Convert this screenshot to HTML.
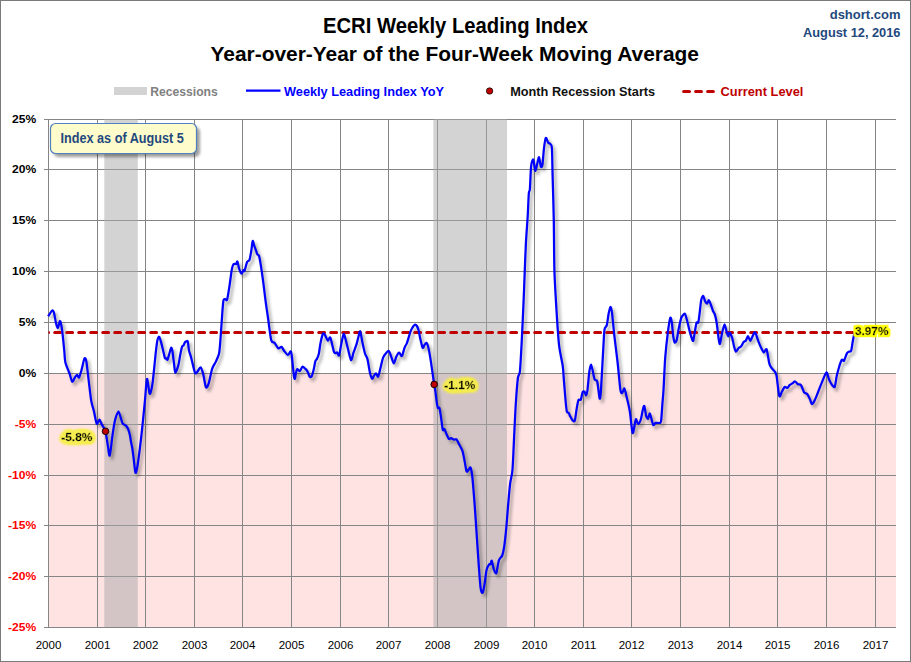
<!DOCTYPE html>
<html><head><meta charset="utf-8"><title>ECRI Weekly Leading Index</title>
<style>
html,body{margin:0;padding:0;background:#fff;}
body{width:911px;height:662px;overflow:hidden;}
svg{display:block;font-family:"Liberation Sans", sans-serif;}
</style></head><body>
<svg width="911" height="662" viewBox="0 0 911 662">
<defs>
<clipPath id="plotclip"><rect x="48.5" y="119.5" width="847.0" height="508.0"/></clipPath>
<filter id="blur" x="-5%" y="-5%" width="110%" height="110%"><feGaussianBlur stdDeviation="1.6"/></filter>
<filter id="blur1" x="-30%" y="-50%" width="160%" height="200%"><feGaussianBlur stdDeviation="1"/></filter>
<filter id="glowA" x="-30%" y="-80%" width="160%" height="260%"><feGaussianBlur in="SourceAlpha" stdDeviation="3.2" result="b0"/><feComponentTransfer in="b0" result="b"><feFuncA type="linear" slope="12" intercept="-0.2"/></feComponentTransfer><feGaussianBlur in="b" stdDeviation="0.5" result="b2"/><feFlood flood-color="#f6ee46" flood-opacity="0.92" result="f"/><feComposite in="f" in2="b2" operator="in" result="g"/><feMerge><feMergeNode in="g"/><feMergeNode in="SourceGraphic"/></feMerge></filter>
<filter id="glowB" x="-30%" y="-80%" width="160%" height="260%"><feMorphology in="SourceAlpha" operator="dilate" radius="1.6" result="d"/><feGaussianBlur in="d" stdDeviation="0.5" result="b"/><feFlood flood-color="#ffff00" flood-opacity="1" result="f"/><feComposite in="f" in2="b" operator="in" result="g"/><feMerge><feMergeNode in="g"/><feMergeNode in="SourceGraphic"/></feMerge></filter>
<filter id="blur2" x="-30%" y="-50%" width="160%" height="200%"><feGaussianBlur stdDeviation="1.5"/></filter>
</defs>
<rect x="0.5" y="0.5" width="910" height="661" fill="#fff" stroke="#7a7a7a" stroke-width="1"/>
<rect x="49" y="374" width="847" height="253" fill="#ffe3e3"/>
<path d="M48.5 119V628 M97.5 119V628 M145.5 119V628 M194.5 119V628 M242.5 119V628 M291.5 119V628 M340.5 119V628 M388.5 119V628 M437.5 119V628 M486.5 119V628 M534.5 119V628 M583.5 119V628 M631.5 119V628 M680.5 119V628 M729.5 119V628 M777.5 119V628 M826.5 119V628 M875.5 119V628 M44 119.5H896 M44 169.5H896 M44 220.5H896 M44 271.5H896 M44 322.5H896 M44 373.5H896 M44 424.5H896 M44 475.5H896 M44 525.5H896 M44 576.5H896 M44 627.5H896" stroke="#858585" stroke-width="1" fill="none"/>
<rect x="104.3" y="119" width="33.5" height="508" fill="rgb(169,169,169)" fill-opacity="0.513"/>
<rect x="433.4" y="119" width="73.6" height="508" fill="rgb(169,169,169)" fill-opacity="0.513"/>
<path d="M48.20 316.30C48.72 315.54 51.33 311.07 52.10 310.60C52.87 310.13 53.49 311.19 54.00 312.80C54.51 314.41 55.39 320.67 55.90 322.70C56.41 324.73 57.29 328.16 57.80 328.00C58.31 327.84 59.30 322.21 59.70 321.50C60.10 320.79 60.45 321.34 60.80 322.70C61.15 324.06 61.85 328.06 62.30 331.70C62.75 335.34 63.79 345.89 64.20 350.00C64.61 354.11 64.69 359.38 65.40 362.50C66.11 365.62 68.59 370.85 69.50 373.40C70.41 375.95 71.48 381.05 72.20 381.60C72.92 382.15 74.25 378.41 74.90 377.50C75.55 376.59 76.55 374.80 77.10 374.80C77.65 374.80 78.39 378.22 79.00 377.50C79.61 376.78 80.98 371.93 81.70 369.40C82.42 366.87 83.79 359.59 84.40 358.50C85.01 357.41 85.75 358.48 86.30 361.20C86.85 363.92 87.85 373.65 88.50 378.90C89.15 384.15 90.47 396.25 91.20 400.60C91.93 404.95 93.27 408.42 94.00 411.50C94.73 414.58 95.98 422.61 96.70 423.70C97.42 424.79 98.68 419.51 99.40 419.70C100.12 419.89 101.30 423.58 102.10 425.10C102.90 426.62 104.67 428.57 105.40 431.10C106.13 433.63 107.03 440.83 107.60 444.10C108.17 447.37 109.06 456.65 109.70 455.60C110.34 454.55 111.80 440.39 112.40 436.20C113.00 432.01 113.72 426.77 114.20 424.20C114.68 421.63 115.43 418.59 116.00 416.90C116.57 415.21 117.85 411.34 118.50 411.50C119.15 411.66 120.34 416.49 120.90 418.10C121.46 419.71 122.06 422.63 122.70 423.60C123.34 424.57 124.98 424.68 125.70 425.40C126.42 426.12 127.54 427.72 128.10 429.00C128.66 430.28 129.50 433.23 129.90 435.00C130.30 436.77 130.78 440.53 131.10 442.30C131.42 444.07 131.97 446.21 132.30 448.30C132.63 450.39 133.19 454.77 133.60 458.00C134.01 461.23 134.92 471.22 135.40 472.50C135.88 473.78 136.64 470.51 137.20 467.60C137.76 464.69 138.96 455.69 139.60 450.70C140.24 445.71 141.28 436.96 142.00 430.20C142.72 423.44 144.33 406.84 145.00 400.00C145.67 393.16 146.37 379.73 147.00 378.90C147.63 378.07 148.98 393.08 149.70 393.80C150.42 394.52 151.68 388.94 152.40 384.30C153.12 379.66 154.62 363.52 155.10 359.00C155.58 354.48 155.71 352.84 156.00 350.40C156.29 347.96 156.93 342.51 157.30 340.70C157.67 338.89 158.44 337.08 158.80 336.80C159.16 336.52 159.60 337.52 160.00 338.60C160.40 339.68 161.16 342.37 161.80 344.90C162.44 347.43 164.20 355.79 164.80 357.60C165.40 359.41 165.94 358.22 166.30 358.50C166.66 358.78 167.06 360.46 167.50 359.70C167.94 358.94 169.12 354.40 169.60 352.80C170.08 351.20 170.73 347.94 171.10 347.70C171.47 347.46 171.99 348.69 172.40 351.00C172.81 353.31 173.80 362.09 174.20 365.00C174.60 367.91 174.84 372.80 175.40 372.80C175.96 372.80 177.76 367.37 178.40 365.00C179.04 362.63 179.72 357.43 180.20 355.00C180.68 352.57 181.56 348.07 182.00 346.80C182.44 345.53 183.10 346.11 183.50 345.50C183.90 344.89 184.63 342.76 185.00 342.20C185.37 341.64 185.93 341.38 186.30 341.30C186.67 341.22 187.44 340.39 187.80 341.60C188.16 342.81 188.55 348.24 189.00 350.40C189.45 352.56 190.40 354.81 191.20 357.80C192.00 360.79 194.13 370.99 195.00 372.80C195.87 374.61 196.97 372.13 197.70 371.40C198.43 370.67 199.77 366.94 200.50 367.30C201.23 367.66 202.48 371.45 203.20 374.10C203.92 376.75 205.18 385.92 205.90 387.20C206.62 388.48 207.76 386.17 208.60 383.70C209.44 381.23 211.25 371.61 212.20 368.70C213.15 365.79 214.79 363.90 215.70 361.90C216.61 359.90 218.39 356.42 219.00 353.70C219.61 350.98 219.86 346.93 220.30 341.50C220.74 336.07 221.87 318.49 222.30 313.00C222.73 307.51 223.10 302.15 223.50 300.30C223.90 298.45 224.82 299.18 225.30 299.10C225.78 299.02 226.54 301.47 227.10 299.70C227.66 297.93 228.86 289.91 229.50 285.80C230.14 281.69 231.34 271.81 231.90 268.90C232.46 265.99 233.13 264.65 233.70 264.00C234.27 263.35 235.71 264.32 236.20 264.00C236.69 263.68 237.00 260.95 237.40 261.60C237.80 262.25 238.64 267.29 239.20 268.90C239.76 270.51 241.04 273.54 241.60 273.70C242.16 273.86 243.00 270.50 243.40 270.10C243.80 269.70 244.12 271.75 244.60 270.70C245.08 269.65 246.35 263.65 247.00 262.20C247.65 260.75 248.93 261.33 249.50 259.80C250.07 258.27 250.87 253.21 251.30 250.70C251.73 248.19 252.30 241.64 252.70 241.00C253.10 240.36 253.85 244.61 254.30 245.90C254.75 247.19 255.70 249.58 256.10 250.70C256.50 251.82 256.90 253.57 257.30 254.30C257.70 255.03 258.61 254.59 259.10 256.20C259.59 257.81 260.43 262.77 261.00 266.40C261.57 270.03 262.76 278.56 263.40 283.40C264.04 288.24 265.20 298.22 265.80 302.70C266.40 307.18 267.18 312.01 267.90 317.00C268.62 321.99 270.29 336.65 271.20 340.10C272.11 343.55 273.77 341.81 274.70 342.90C275.63 343.99 277.29 347.77 278.20 348.30C279.11 348.83 280.70 346.54 281.50 346.90C282.30 347.26 283.33 349.93 284.20 351.00C285.07 352.07 287.11 354.85 288.00 354.90C288.89 354.95 290.31 350.55 290.90 351.40C291.49 352.25 292.00 358.02 292.40 361.30C292.80 364.58 293.57 373.65 293.90 376.00C294.23 378.35 294.63 379.30 294.90 378.90C295.17 378.50 295.58 374.31 295.90 373.00C296.22 371.69 296.78 369.35 297.30 369.10C297.82 368.85 299.11 371.42 299.80 371.10C300.49 370.78 301.78 367.03 302.50 366.70C303.22 366.37 304.52 367.95 305.20 368.60C305.88 369.25 307.01 370.55 307.60 371.60C308.19 372.65 309.07 375.85 309.60 376.50C310.13 377.15 311.05 377.42 311.60 376.50C312.15 375.58 313.21 371.63 313.70 369.60C314.19 367.57 314.86 362.74 315.30 361.30C315.74 359.86 316.52 359.85 317.00 358.80C317.48 357.75 318.45 355.43 318.90 353.40C319.35 351.37 319.87 346.21 320.40 343.60C320.93 340.99 322.31 334.99 322.90 333.80C323.49 332.61 324.15 333.79 324.80 334.70C325.45 335.61 327.05 340.20 327.80 340.60C328.55 341.00 329.55 336.13 330.40 337.70C331.25 339.27 333.31 350.44 334.20 352.40C335.09 354.36 336.45 352.00 337.10 352.40C337.75 352.80 338.58 356.32 339.10 355.40C339.62 354.48 340.41 348.33 341.00 345.50C341.59 342.67 342.94 335.21 343.50 334.20C344.06 333.19 344.64 336.09 345.20 337.90C345.76 339.71 346.93 344.84 347.70 347.80C348.47 350.76 350.23 359.45 351.00 360.10C351.77 360.75 352.74 354.90 353.50 352.70C354.26 350.50 356.05 345.69 356.70 343.60C357.35 341.51 357.93 338.64 358.40 337.00C358.87 335.36 359.65 330.53 360.20 331.30C360.75 332.07 361.86 339.84 362.50 342.80C363.14 345.76 364.33 351.30 365.00 353.50C365.67 355.70 366.85 356.77 367.50 359.30C368.15 361.83 369.29 369.91 369.90 372.50C370.51 375.09 371.55 378.27 372.10 378.70C372.65 379.13 373.48 376.42 374.00 375.70C374.52 374.98 375.44 373.18 376.00 373.30C376.56 373.42 377.59 377.37 378.20 376.60C378.81 375.83 379.95 370.03 380.60 367.50C381.25 364.97 382.33 359.57 383.10 357.60C383.87 355.63 385.63 353.58 386.40 352.70C387.17 351.82 388.25 350.45 388.90 351.00C389.55 351.55 390.65 355.15 391.30 356.80C391.95 358.45 393.13 363.40 393.80 363.40C394.47 363.40 395.59 358.23 396.30 356.80C397.01 355.37 398.34 352.81 399.10 352.70C399.86 352.59 401.28 356.65 402.00 356.00C402.72 355.35 403.83 349.56 404.50 347.80C405.17 346.04 406.23 344.89 407.00 342.80C407.77 340.71 409.61 334.07 410.30 332.10C410.99 330.13 411.55 328.99 412.20 328.00C412.85 327.01 414.40 324.59 415.20 324.70C416.00 324.81 417.55 327.04 418.20 328.80C418.85 330.56 419.51 335.37 420.10 337.90C420.69 340.43 422.04 346.81 422.60 347.80C423.16 348.79 423.79 345.97 424.30 345.30C424.81 344.63 425.85 342.47 426.40 342.80C426.95 343.13 427.81 345.39 428.40 347.80C428.99 350.21 430.04 356.07 430.80 360.90C431.56 365.73 433.50 380.04 434.10 384.00C434.70 387.96 434.94 388.11 435.30 390.60C435.66 393.09 436.45 400.39 436.80 402.70C437.15 405.01 437.55 407.21 437.90 407.90C438.25 408.59 439.00 406.78 439.40 407.90C439.80 409.02 440.45 413.38 440.90 416.30C441.35 419.22 442.33 428.09 442.80 429.80C443.27 431.51 443.93 428.59 444.40 429.10C444.87 429.61 445.70 432.29 446.30 433.60C446.90 434.91 448.26 438.29 448.90 438.90C449.54 439.51 450.39 438.09 451.10 438.20C451.81 438.31 453.49 439.57 454.20 439.70C454.91 439.83 455.69 438.49 456.40 439.20C457.11 439.91 458.69 443.43 459.50 445.00C460.31 446.57 461.81 448.79 462.50 451.00C463.19 453.21 464.15 458.88 464.70 461.60C465.25 464.32 466.09 470.29 466.60 471.40C467.11 472.51 467.98 470.41 468.50 469.90C469.02 469.39 469.99 466.69 470.50 467.60C471.01 468.51 471.74 471.66 472.30 476.70C472.86 481.74 474.11 497.65 474.70 505.40C475.29 513.15 476.17 526.95 476.70 534.80C477.23 542.65 478.18 557.22 478.70 564.30C479.22 571.38 480.08 584.10 480.60 587.90C481.12 591.70 482.07 593.32 482.60 592.80C483.13 592.28 484.08 587.01 484.60 584.00C485.12 580.99 485.90 572.83 486.50 570.20C487.10 567.57 488.57 565.09 489.10 564.30C489.63 563.51 490.14 564.77 490.50 564.30C490.86 563.83 491.36 560.15 491.80 560.80C492.24 561.45 493.20 567.56 493.80 569.20C494.40 570.84 495.62 574.27 496.30 573.10C496.98 571.93 498.11 562.75 498.90 560.40C499.69 558.05 501.49 557.34 502.20 555.50C502.91 553.66 503.67 550.15 504.20 546.60C504.73 543.05 505.68 534.39 506.20 528.90C506.72 523.41 507.58 511.41 508.10 505.40C508.62 499.39 509.51 488.59 510.10 483.80C510.69 479.01 511.94 476.27 512.50 469.50C513.06 462.73 513.86 441.77 514.30 433.00C514.74 424.23 515.32 411.03 515.80 403.70C516.28 396.37 517.35 382.29 517.90 378.00C518.45 373.71 519.39 376.30 519.90 371.50C520.41 366.70 521.22 351.08 521.70 342.00C522.18 332.92 523.11 312.33 523.50 303.40C523.89 294.47 524.28 283.00 524.60 275.00C524.92 267.00 525.49 251.24 525.90 243.40C526.31 235.56 527.31 222.85 527.70 216.20C528.09 209.55 528.51 197.13 528.80 193.50C529.09 189.87 529.59 192.63 529.90 189.00C530.21 185.37 530.65 170.23 531.10 166.30C531.55 162.37 532.75 158.90 533.30 159.50C533.85 160.10 534.68 170.20 535.20 170.80C535.72 171.40 536.69 165.81 537.20 164.00C537.71 162.19 538.52 156.89 539.00 157.20C539.48 157.51 540.35 165.25 540.80 166.30C541.25 167.35 541.97 167.53 542.40 165.10C542.83 162.67 543.55 151.73 544.00 148.10C544.45 144.47 545.25 138.65 545.80 137.90C546.35 137.15 547.49 141.67 548.10 142.50C548.71 143.33 549.89 143.35 550.40 144.10C550.91 144.85 551.61 143.93 551.90 148.10C552.19 152.27 552.35 165.72 552.60 175.40C552.85 185.08 553.56 208.09 553.80 220.70C554.04 233.31 554.05 258.28 554.40 270.00C554.75 281.72 555.79 298.65 556.40 308.60C557.01 318.55 558.16 336.99 559.00 344.60C559.84 352.21 562.05 360.95 562.70 365.70C563.35 370.45 563.50 375.36 563.90 380.20C564.30 385.04 565.30 397.80 565.70 402.00C566.10 406.20 566.50 410.25 566.90 411.70C567.30 413.15 568.29 412.34 568.70 412.90C569.11 413.46 569.51 414.94 570.00 415.90C570.49 416.86 571.76 419.46 572.40 420.10C573.04 420.74 574.24 422.15 574.80 420.70C575.36 419.25 576.12 411.93 576.60 409.20C577.08 406.47 577.84 401.48 578.40 400.20C578.96 398.92 580.24 400.65 580.80 399.60C581.36 398.55 582.11 393.35 582.60 392.30C583.09 391.25 584.05 391.30 584.50 391.70C584.95 392.10 585.60 395.54 586.00 395.30C586.40 395.06 587.06 393.03 587.50 389.90C587.94 386.77 588.82 375.19 589.30 371.80C589.78 368.41 590.62 364.50 591.10 364.50C591.58 364.50 592.42 369.79 592.90 371.80C593.38 373.81 594.13 378.32 594.70 379.60C595.27 380.88 596.55 378.89 597.20 381.40C597.85 383.91 599.12 396.95 599.60 398.40C600.08 399.85 600.45 396.34 600.80 392.30C601.15 388.26 601.88 373.74 602.20 368.10C602.52 362.46 602.89 355.13 603.20 350.00C603.51 344.87 604.02 332.92 604.50 329.60C604.98 326.28 606.25 327.21 606.80 325.10C607.35 322.99 608.12 316.21 608.60 313.80C609.08 311.39 609.95 307.16 610.40 307.00C610.85 306.84 611.48 308.83 612.00 312.60C612.52 316.37 613.55 328.65 614.30 335.30C615.05 341.95 616.79 355.25 617.60 362.50C618.41 369.75 619.79 385.62 620.40 389.70C621.01 393.78 621.67 393.26 622.20 393.10C622.73 392.94 623.79 387.90 624.40 388.50C625.01 389.10 626.08 394.57 626.80 397.60C627.52 400.63 629.04 406.52 629.80 411.20C630.56 415.88 631.89 430.69 632.50 432.70C633.11 434.71 633.95 428.11 634.40 426.30C634.85 424.49 635.41 419.41 635.90 419.10C636.39 418.79 637.45 423.95 638.10 424.00C638.75 424.05 640.19 421.31 640.80 419.50C641.41 417.69 642.23 412.21 642.70 410.40C643.17 408.59 643.85 405.19 644.30 405.90C644.75 406.61 645.61 413.99 646.10 415.70C646.59 417.41 647.53 419.01 648.00 418.70C648.47 418.39 649.20 413.60 649.60 413.40C650.00 413.20 650.51 415.64 651.00 417.20C651.49 418.76 652.70 424.34 653.30 425.10C653.90 425.86 654.59 423.19 655.50 422.90C656.41 422.61 659.34 423.26 660.10 422.90C660.86 422.54 660.91 422.57 661.20 420.20C661.49 417.83 661.99 409.13 662.30 405.10C662.61 401.07 663.11 396.29 663.50 390.00C663.89 383.71 664.61 365.62 665.20 357.90C665.79 350.18 667.22 337.43 667.90 332.10C668.58 326.77 669.78 319.21 670.30 317.90C670.82 316.59 671.41 319.89 671.80 322.30C672.19 324.71 672.81 333.32 673.20 336.00C673.59 338.68 674.23 341.87 674.70 342.40C675.17 342.93 676.18 341.76 676.70 340.00C677.22 338.24 678.01 332.08 678.60 329.20C679.19 326.32 680.50 320.31 681.10 318.40C681.70 316.49 682.58 315.50 683.10 314.90C683.62 314.30 684.48 313.18 685.00 313.90C685.52 314.62 686.41 318.14 687.00 320.30C687.59 322.46 688.81 327.87 689.40 330.10C689.99 332.33 690.89 335.56 691.40 337.00C691.91 338.44 692.75 341.55 693.20 340.90C693.65 340.25 694.36 334.51 694.80 332.10C695.24 329.69 696.03 324.11 696.50 322.80C696.97 321.49 697.87 323.67 698.30 322.30C698.73 320.93 699.31 315.45 699.70 312.50C700.09 309.55 700.73 302.43 701.20 300.20C701.67 297.97 702.68 295.67 703.20 295.80C703.72 295.93 704.58 300.16 705.10 301.20C705.62 302.24 706.59 303.73 707.10 303.60C707.61 303.47 708.38 300.00 708.90 300.20C709.42 300.40 710.45 303.66 711.00 305.10C711.55 306.54 712.47 309.69 713.00 311.00C713.53 312.31 714.48 313.13 715.00 314.90C715.52 316.67 716.45 321.35 716.90 324.30C717.35 327.25 718.00 334.39 718.40 337.00C718.80 339.61 719.38 344.55 719.90 343.90C720.42 343.25 721.67 334.71 722.30 332.10C722.93 329.49 724.01 324.30 724.60 324.30C725.19 324.30 726.22 330.47 726.70 332.10C727.18 333.73 727.83 336.43 728.20 336.50C728.57 336.57 728.97 332.40 729.50 332.60C730.03 332.80 731.60 336.19 732.20 338.00C732.80 339.81 733.52 344.39 734.00 346.20C734.48 348.01 735.19 351.36 735.80 351.60C736.41 351.84 737.87 348.72 738.60 348.00C739.33 347.28 740.63 347.00 741.30 346.20C741.97 345.40 743.00 342.72 743.60 342.00C744.20 341.28 745.21 341.57 745.80 340.80C746.39 340.03 747.40 336.20 748.00 336.20C748.60 336.20 749.63 340.92 750.30 340.80C750.97 340.68 752.35 336.39 753.00 335.30C753.65 334.21 754.47 331.75 755.20 332.60C755.93 333.45 757.70 339.65 758.50 341.70C759.30 343.75 760.48 346.56 761.20 348.00C761.92 349.44 763.18 352.33 763.90 352.50C764.62 352.67 765.88 347.85 766.60 349.30C767.32 350.75 768.65 360.92 769.30 363.40C769.95 365.88 770.77 366.81 771.50 367.90C772.23 368.99 774.12 370.51 774.80 371.60C775.48 372.69 776.00 372.85 776.60 376.10C777.20 379.35 778.58 393.95 779.30 396.00C780.02 398.05 781.28 392.70 782.00 391.50C782.72 390.30 783.97 387.48 784.70 387.00C785.43 386.52 786.85 388.15 787.50 387.90C788.15 387.65 788.93 385.71 789.60 385.10C790.27 384.49 791.77 383.78 792.50 383.30C793.23 382.82 794.37 381.38 795.10 381.50C795.83 381.62 797.21 383.72 798.00 384.20C798.79 384.68 800.19 384.01 801.00 385.10C801.81 386.19 803.25 391.19 804.10 392.40C804.95 393.61 806.60 393.24 807.40 394.20C808.20 395.16 809.50 398.27 810.10 399.60C810.70 400.93 811.30 404.08 811.90 404.20C812.50 404.32 813.75 402.19 814.60 400.50C815.45 398.81 817.33 393.91 818.30 391.50C819.27 389.09 820.82 384.93 821.90 382.40C822.98 379.87 825.48 372.98 826.40 372.50C827.32 372.02 828.19 377.36 828.80 378.80C829.41 380.24 830.23 382.21 831.00 383.30C831.77 384.39 833.84 387.96 834.60 387.00C835.36 386.04 836.10 378.77 836.70 376.10C837.30 373.43 838.42 369.17 839.10 367.00C839.78 364.83 841.15 360.64 841.80 359.80C842.45 358.96 843.32 361.55 844.00 360.70C844.68 359.85 846.22 354.61 846.90 353.40C847.58 352.19 848.53 351.96 849.10 351.60C849.67 351.24 850.72 352.02 851.20 350.70C851.68 349.38 852.26 344.11 852.70 341.70C853.14 339.29 854.26 333.81 854.50 332.60" stroke="#000" stroke-opacity="0.28" stroke-width="3" fill="none" stroke-linejoin="round" filter="url(#blur)" transform="translate(2.5 3)"/>
<path d="M42.7 332.6H854" stroke="#c00000" stroke-width="3" stroke-dasharray="5.9 6.1" stroke-linecap="round" fill="none" clip-path="url(#plotclip)"/>
<path d="M48.20 316.30C48.72 315.54 51.33 311.07 52.10 310.60C52.87 310.13 53.49 311.19 54.00 312.80C54.51 314.41 55.39 320.67 55.90 322.70C56.41 324.73 57.29 328.16 57.80 328.00C58.31 327.84 59.30 322.21 59.70 321.50C60.10 320.79 60.45 321.34 60.80 322.70C61.15 324.06 61.85 328.06 62.30 331.70C62.75 335.34 63.79 345.89 64.20 350.00C64.61 354.11 64.69 359.38 65.40 362.50C66.11 365.62 68.59 370.85 69.50 373.40C70.41 375.95 71.48 381.05 72.20 381.60C72.92 382.15 74.25 378.41 74.90 377.50C75.55 376.59 76.55 374.80 77.10 374.80C77.65 374.80 78.39 378.22 79.00 377.50C79.61 376.78 80.98 371.93 81.70 369.40C82.42 366.87 83.79 359.59 84.40 358.50C85.01 357.41 85.75 358.48 86.30 361.20C86.85 363.92 87.85 373.65 88.50 378.90C89.15 384.15 90.47 396.25 91.20 400.60C91.93 404.95 93.27 408.42 94.00 411.50C94.73 414.58 95.98 422.61 96.70 423.70C97.42 424.79 98.68 419.51 99.40 419.70C100.12 419.89 101.30 423.58 102.10 425.10C102.90 426.62 104.67 428.57 105.40 431.10C106.13 433.63 107.03 440.83 107.60 444.10C108.17 447.37 109.06 456.65 109.70 455.60C110.34 454.55 111.80 440.39 112.40 436.20C113.00 432.01 113.72 426.77 114.20 424.20C114.68 421.63 115.43 418.59 116.00 416.90C116.57 415.21 117.85 411.34 118.50 411.50C119.15 411.66 120.34 416.49 120.90 418.10C121.46 419.71 122.06 422.63 122.70 423.60C123.34 424.57 124.98 424.68 125.70 425.40C126.42 426.12 127.54 427.72 128.10 429.00C128.66 430.28 129.50 433.23 129.90 435.00C130.30 436.77 130.78 440.53 131.10 442.30C131.42 444.07 131.97 446.21 132.30 448.30C132.63 450.39 133.19 454.77 133.60 458.00C134.01 461.23 134.92 471.22 135.40 472.50C135.88 473.78 136.64 470.51 137.20 467.60C137.76 464.69 138.96 455.69 139.60 450.70C140.24 445.71 141.28 436.96 142.00 430.20C142.72 423.44 144.33 406.84 145.00 400.00C145.67 393.16 146.37 379.73 147.00 378.90C147.63 378.07 148.98 393.08 149.70 393.80C150.42 394.52 151.68 388.94 152.40 384.30C153.12 379.66 154.62 363.52 155.10 359.00C155.58 354.48 155.71 352.84 156.00 350.40C156.29 347.96 156.93 342.51 157.30 340.70C157.67 338.89 158.44 337.08 158.80 336.80C159.16 336.52 159.60 337.52 160.00 338.60C160.40 339.68 161.16 342.37 161.80 344.90C162.44 347.43 164.20 355.79 164.80 357.60C165.40 359.41 165.94 358.22 166.30 358.50C166.66 358.78 167.06 360.46 167.50 359.70C167.94 358.94 169.12 354.40 169.60 352.80C170.08 351.20 170.73 347.94 171.10 347.70C171.47 347.46 171.99 348.69 172.40 351.00C172.81 353.31 173.80 362.09 174.20 365.00C174.60 367.91 174.84 372.80 175.40 372.80C175.96 372.80 177.76 367.37 178.40 365.00C179.04 362.63 179.72 357.43 180.20 355.00C180.68 352.57 181.56 348.07 182.00 346.80C182.44 345.53 183.10 346.11 183.50 345.50C183.90 344.89 184.63 342.76 185.00 342.20C185.37 341.64 185.93 341.38 186.30 341.30C186.67 341.22 187.44 340.39 187.80 341.60C188.16 342.81 188.55 348.24 189.00 350.40C189.45 352.56 190.40 354.81 191.20 357.80C192.00 360.79 194.13 370.99 195.00 372.80C195.87 374.61 196.97 372.13 197.70 371.40C198.43 370.67 199.77 366.94 200.50 367.30C201.23 367.66 202.48 371.45 203.20 374.10C203.92 376.75 205.18 385.92 205.90 387.20C206.62 388.48 207.76 386.17 208.60 383.70C209.44 381.23 211.25 371.61 212.20 368.70C213.15 365.79 214.79 363.90 215.70 361.90C216.61 359.90 218.39 356.42 219.00 353.70C219.61 350.98 219.86 346.93 220.30 341.50C220.74 336.07 221.87 318.49 222.30 313.00C222.73 307.51 223.10 302.15 223.50 300.30C223.90 298.45 224.82 299.18 225.30 299.10C225.78 299.02 226.54 301.47 227.10 299.70C227.66 297.93 228.86 289.91 229.50 285.80C230.14 281.69 231.34 271.81 231.90 268.90C232.46 265.99 233.13 264.65 233.70 264.00C234.27 263.35 235.71 264.32 236.20 264.00C236.69 263.68 237.00 260.95 237.40 261.60C237.80 262.25 238.64 267.29 239.20 268.90C239.76 270.51 241.04 273.54 241.60 273.70C242.16 273.86 243.00 270.50 243.40 270.10C243.80 269.70 244.12 271.75 244.60 270.70C245.08 269.65 246.35 263.65 247.00 262.20C247.65 260.75 248.93 261.33 249.50 259.80C250.07 258.27 250.87 253.21 251.30 250.70C251.73 248.19 252.30 241.64 252.70 241.00C253.10 240.36 253.85 244.61 254.30 245.90C254.75 247.19 255.70 249.58 256.10 250.70C256.50 251.82 256.90 253.57 257.30 254.30C257.70 255.03 258.61 254.59 259.10 256.20C259.59 257.81 260.43 262.77 261.00 266.40C261.57 270.03 262.76 278.56 263.40 283.40C264.04 288.24 265.20 298.22 265.80 302.70C266.40 307.18 267.18 312.01 267.90 317.00C268.62 321.99 270.29 336.65 271.20 340.10C272.11 343.55 273.77 341.81 274.70 342.90C275.63 343.99 277.29 347.77 278.20 348.30C279.11 348.83 280.70 346.54 281.50 346.90C282.30 347.26 283.33 349.93 284.20 351.00C285.07 352.07 287.11 354.85 288.00 354.90C288.89 354.95 290.31 350.55 290.90 351.40C291.49 352.25 292.00 358.02 292.40 361.30C292.80 364.58 293.57 373.65 293.90 376.00C294.23 378.35 294.63 379.30 294.90 378.90C295.17 378.50 295.58 374.31 295.90 373.00C296.22 371.69 296.78 369.35 297.30 369.10C297.82 368.85 299.11 371.42 299.80 371.10C300.49 370.78 301.78 367.03 302.50 366.70C303.22 366.37 304.52 367.95 305.20 368.60C305.88 369.25 307.01 370.55 307.60 371.60C308.19 372.65 309.07 375.85 309.60 376.50C310.13 377.15 311.05 377.42 311.60 376.50C312.15 375.58 313.21 371.63 313.70 369.60C314.19 367.57 314.86 362.74 315.30 361.30C315.74 359.86 316.52 359.85 317.00 358.80C317.48 357.75 318.45 355.43 318.90 353.40C319.35 351.37 319.87 346.21 320.40 343.60C320.93 340.99 322.31 334.99 322.90 333.80C323.49 332.61 324.15 333.79 324.80 334.70C325.45 335.61 327.05 340.20 327.80 340.60C328.55 341.00 329.55 336.13 330.40 337.70C331.25 339.27 333.31 350.44 334.20 352.40C335.09 354.36 336.45 352.00 337.10 352.40C337.75 352.80 338.58 356.32 339.10 355.40C339.62 354.48 340.41 348.33 341.00 345.50C341.59 342.67 342.94 335.21 343.50 334.20C344.06 333.19 344.64 336.09 345.20 337.90C345.76 339.71 346.93 344.84 347.70 347.80C348.47 350.76 350.23 359.45 351.00 360.10C351.77 360.75 352.74 354.90 353.50 352.70C354.26 350.50 356.05 345.69 356.70 343.60C357.35 341.51 357.93 338.64 358.40 337.00C358.87 335.36 359.65 330.53 360.20 331.30C360.75 332.07 361.86 339.84 362.50 342.80C363.14 345.76 364.33 351.30 365.00 353.50C365.67 355.70 366.85 356.77 367.50 359.30C368.15 361.83 369.29 369.91 369.90 372.50C370.51 375.09 371.55 378.27 372.10 378.70C372.65 379.13 373.48 376.42 374.00 375.70C374.52 374.98 375.44 373.18 376.00 373.30C376.56 373.42 377.59 377.37 378.20 376.60C378.81 375.83 379.95 370.03 380.60 367.50C381.25 364.97 382.33 359.57 383.10 357.60C383.87 355.63 385.63 353.58 386.40 352.70C387.17 351.82 388.25 350.45 388.90 351.00C389.55 351.55 390.65 355.15 391.30 356.80C391.95 358.45 393.13 363.40 393.80 363.40C394.47 363.40 395.59 358.23 396.30 356.80C397.01 355.37 398.34 352.81 399.10 352.70C399.86 352.59 401.28 356.65 402.00 356.00C402.72 355.35 403.83 349.56 404.50 347.80C405.17 346.04 406.23 344.89 407.00 342.80C407.77 340.71 409.61 334.07 410.30 332.10C410.99 330.13 411.55 328.99 412.20 328.00C412.85 327.01 414.40 324.59 415.20 324.70C416.00 324.81 417.55 327.04 418.20 328.80C418.85 330.56 419.51 335.37 420.10 337.90C420.69 340.43 422.04 346.81 422.60 347.80C423.16 348.79 423.79 345.97 424.30 345.30C424.81 344.63 425.85 342.47 426.40 342.80C426.95 343.13 427.81 345.39 428.40 347.80C428.99 350.21 430.04 356.07 430.80 360.90C431.56 365.73 433.50 380.04 434.10 384.00C434.70 387.96 434.94 388.11 435.30 390.60C435.66 393.09 436.45 400.39 436.80 402.70C437.15 405.01 437.55 407.21 437.90 407.90C438.25 408.59 439.00 406.78 439.40 407.90C439.80 409.02 440.45 413.38 440.90 416.30C441.35 419.22 442.33 428.09 442.80 429.80C443.27 431.51 443.93 428.59 444.40 429.10C444.87 429.61 445.70 432.29 446.30 433.60C446.90 434.91 448.26 438.29 448.90 438.90C449.54 439.51 450.39 438.09 451.10 438.20C451.81 438.31 453.49 439.57 454.20 439.70C454.91 439.83 455.69 438.49 456.40 439.20C457.11 439.91 458.69 443.43 459.50 445.00C460.31 446.57 461.81 448.79 462.50 451.00C463.19 453.21 464.15 458.88 464.70 461.60C465.25 464.32 466.09 470.29 466.60 471.40C467.11 472.51 467.98 470.41 468.50 469.90C469.02 469.39 469.99 466.69 470.50 467.60C471.01 468.51 471.74 471.66 472.30 476.70C472.86 481.74 474.11 497.65 474.70 505.40C475.29 513.15 476.17 526.95 476.70 534.80C477.23 542.65 478.18 557.22 478.70 564.30C479.22 571.38 480.08 584.10 480.60 587.90C481.12 591.70 482.07 593.32 482.60 592.80C483.13 592.28 484.08 587.01 484.60 584.00C485.12 580.99 485.90 572.83 486.50 570.20C487.10 567.57 488.57 565.09 489.10 564.30C489.63 563.51 490.14 564.77 490.50 564.30C490.86 563.83 491.36 560.15 491.80 560.80C492.24 561.45 493.20 567.56 493.80 569.20C494.40 570.84 495.62 574.27 496.30 573.10C496.98 571.93 498.11 562.75 498.90 560.40C499.69 558.05 501.49 557.34 502.20 555.50C502.91 553.66 503.67 550.15 504.20 546.60C504.73 543.05 505.68 534.39 506.20 528.90C506.72 523.41 507.58 511.41 508.10 505.40C508.62 499.39 509.51 488.59 510.10 483.80C510.69 479.01 511.94 476.27 512.50 469.50C513.06 462.73 513.86 441.77 514.30 433.00C514.74 424.23 515.32 411.03 515.80 403.70C516.28 396.37 517.35 382.29 517.90 378.00C518.45 373.71 519.39 376.30 519.90 371.50C520.41 366.70 521.22 351.08 521.70 342.00C522.18 332.92 523.11 312.33 523.50 303.40C523.89 294.47 524.28 283.00 524.60 275.00C524.92 267.00 525.49 251.24 525.90 243.40C526.31 235.56 527.31 222.85 527.70 216.20C528.09 209.55 528.51 197.13 528.80 193.50C529.09 189.87 529.59 192.63 529.90 189.00C530.21 185.37 530.65 170.23 531.10 166.30C531.55 162.37 532.75 158.90 533.30 159.50C533.85 160.10 534.68 170.20 535.20 170.80C535.72 171.40 536.69 165.81 537.20 164.00C537.71 162.19 538.52 156.89 539.00 157.20C539.48 157.51 540.35 165.25 540.80 166.30C541.25 167.35 541.97 167.53 542.40 165.10C542.83 162.67 543.55 151.73 544.00 148.10C544.45 144.47 545.25 138.65 545.80 137.90C546.35 137.15 547.49 141.67 548.10 142.50C548.71 143.33 549.89 143.35 550.40 144.10C550.91 144.85 551.61 143.93 551.90 148.10C552.19 152.27 552.35 165.72 552.60 175.40C552.85 185.08 553.56 208.09 553.80 220.70C554.04 233.31 554.05 258.28 554.40 270.00C554.75 281.72 555.79 298.65 556.40 308.60C557.01 318.55 558.16 336.99 559.00 344.60C559.84 352.21 562.05 360.95 562.70 365.70C563.35 370.45 563.50 375.36 563.90 380.20C564.30 385.04 565.30 397.80 565.70 402.00C566.10 406.20 566.50 410.25 566.90 411.70C567.30 413.15 568.29 412.34 568.70 412.90C569.11 413.46 569.51 414.94 570.00 415.90C570.49 416.86 571.76 419.46 572.40 420.10C573.04 420.74 574.24 422.15 574.80 420.70C575.36 419.25 576.12 411.93 576.60 409.20C577.08 406.47 577.84 401.48 578.40 400.20C578.96 398.92 580.24 400.65 580.80 399.60C581.36 398.55 582.11 393.35 582.60 392.30C583.09 391.25 584.05 391.30 584.50 391.70C584.95 392.10 585.60 395.54 586.00 395.30C586.40 395.06 587.06 393.03 587.50 389.90C587.94 386.77 588.82 375.19 589.30 371.80C589.78 368.41 590.62 364.50 591.10 364.50C591.58 364.50 592.42 369.79 592.90 371.80C593.38 373.81 594.13 378.32 594.70 379.60C595.27 380.88 596.55 378.89 597.20 381.40C597.85 383.91 599.12 396.95 599.60 398.40C600.08 399.85 600.45 396.34 600.80 392.30C601.15 388.26 601.88 373.74 602.20 368.10C602.52 362.46 602.89 355.13 603.20 350.00C603.51 344.87 604.02 332.92 604.50 329.60C604.98 326.28 606.25 327.21 606.80 325.10C607.35 322.99 608.12 316.21 608.60 313.80C609.08 311.39 609.95 307.16 610.40 307.00C610.85 306.84 611.48 308.83 612.00 312.60C612.52 316.37 613.55 328.65 614.30 335.30C615.05 341.95 616.79 355.25 617.60 362.50C618.41 369.75 619.79 385.62 620.40 389.70C621.01 393.78 621.67 393.26 622.20 393.10C622.73 392.94 623.79 387.90 624.40 388.50C625.01 389.10 626.08 394.57 626.80 397.60C627.52 400.63 629.04 406.52 629.80 411.20C630.56 415.88 631.89 430.69 632.50 432.70C633.11 434.71 633.95 428.11 634.40 426.30C634.85 424.49 635.41 419.41 635.90 419.10C636.39 418.79 637.45 423.95 638.10 424.00C638.75 424.05 640.19 421.31 640.80 419.50C641.41 417.69 642.23 412.21 642.70 410.40C643.17 408.59 643.85 405.19 644.30 405.90C644.75 406.61 645.61 413.99 646.10 415.70C646.59 417.41 647.53 419.01 648.00 418.70C648.47 418.39 649.20 413.60 649.60 413.40C650.00 413.20 650.51 415.64 651.00 417.20C651.49 418.76 652.70 424.34 653.30 425.10C653.90 425.86 654.59 423.19 655.50 422.90C656.41 422.61 659.34 423.26 660.10 422.90C660.86 422.54 660.91 422.57 661.20 420.20C661.49 417.83 661.99 409.13 662.30 405.10C662.61 401.07 663.11 396.29 663.50 390.00C663.89 383.71 664.61 365.62 665.20 357.90C665.79 350.18 667.22 337.43 667.90 332.10C668.58 326.77 669.78 319.21 670.30 317.90C670.82 316.59 671.41 319.89 671.80 322.30C672.19 324.71 672.81 333.32 673.20 336.00C673.59 338.68 674.23 341.87 674.70 342.40C675.17 342.93 676.18 341.76 676.70 340.00C677.22 338.24 678.01 332.08 678.60 329.20C679.19 326.32 680.50 320.31 681.10 318.40C681.70 316.49 682.58 315.50 683.10 314.90C683.62 314.30 684.48 313.18 685.00 313.90C685.52 314.62 686.41 318.14 687.00 320.30C687.59 322.46 688.81 327.87 689.40 330.10C689.99 332.33 690.89 335.56 691.40 337.00C691.91 338.44 692.75 341.55 693.20 340.90C693.65 340.25 694.36 334.51 694.80 332.10C695.24 329.69 696.03 324.11 696.50 322.80C696.97 321.49 697.87 323.67 698.30 322.30C698.73 320.93 699.31 315.45 699.70 312.50C700.09 309.55 700.73 302.43 701.20 300.20C701.67 297.97 702.68 295.67 703.20 295.80C703.72 295.93 704.58 300.16 705.10 301.20C705.62 302.24 706.59 303.73 707.10 303.60C707.61 303.47 708.38 300.00 708.90 300.20C709.42 300.40 710.45 303.66 711.00 305.10C711.55 306.54 712.47 309.69 713.00 311.00C713.53 312.31 714.48 313.13 715.00 314.90C715.52 316.67 716.45 321.35 716.90 324.30C717.35 327.25 718.00 334.39 718.40 337.00C718.80 339.61 719.38 344.55 719.90 343.90C720.42 343.25 721.67 334.71 722.30 332.10C722.93 329.49 724.01 324.30 724.60 324.30C725.19 324.30 726.22 330.47 726.70 332.10C727.18 333.73 727.83 336.43 728.20 336.50C728.57 336.57 728.97 332.40 729.50 332.60C730.03 332.80 731.60 336.19 732.20 338.00C732.80 339.81 733.52 344.39 734.00 346.20C734.48 348.01 735.19 351.36 735.80 351.60C736.41 351.84 737.87 348.72 738.60 348.00C739.33 347.28 740.63 347.00 741.30 346.20C741.97 345.40 743.00 342.72 743.60 342.00C744.20 341.28 745.21 341.57 745.80 340.80C746.39 340.03 747.40 336.20 748.00 336.20C748.60 336.20 749.63 340.92 750.30 340.80C750.97 340.68 752.35 336.39 753.00 335.30C753.65 334.21 754.47 331.75 755.20 332.60C755.93 333.45 757.70 339.65 758.50 341.70C759.30 343.75 760.48 346.56 761.20 348.00C761.92 349.44 763.18 352.33 763.90 352.50C764.62 352.67 765.88 347.85 766.60 349.30C767.32 350.75 768.65 360.92 769.30 363.40C769.95 365.88 770.77 366.81 771.50 367.90C772.23 368.99 774.12 370.51 774.80 371.60C775.48 372.69 776.00 372.85 776.60 376.10C777.20 379.35 778.58 393.95 779.30 396.00C780.02 398.05 781.28 392.70 782.00 391.50C782.72 390.30 783.97 387.48 784.70 387.00C785.43 386.52 786.85 388.15 787.50 387.90C788.15 387.65 788.93 385.71 789.60 385.10C790.27 384.49 791.77 383.78 792.50 383.30C793.23 382.82 794.37 381.38 795.10 381.50C795.83 381.62 797.21 383.72 798.00 384.20C798.79 384.68 800.19 384.01 801.00 385.10C801.81 386.19 803.25 391.19 804.10 392.40C804.95 393.61 806.60 393.24 807.40 394.20C808.20 395.16 809.50 398.27 810.10 399.60C810.70 400.93 811.30 404.08 811.90 404.20C812.50 404.32 813.75 402.19 814.60 400.50C815.45 398.81 817.33 393.91 818.30 391.50C819.27 389.09 820.82 384.93 821.90 382.40C822.98 379.87 825.48 372.98 826.40 372.50C827.32 372.02 828.19 377.36 828.80 378.80C829.41 380.24 830.23 382.21 831.00 383.30C831.77 384.39 833.84 387.96 834.60 387.00C835.36 386.04 836.10 378.77 836.70 376.10C837.30 373.43 838.42 369.17 839.10 367.00C839.78 364.83 841.15 360.64 841.80 359.80C842.45 358.96 843.32 361.55 844.00 360.70C844.68 359.85 846.22 354.61 846.90 353.40C847.58 352.19 848.53 351.96 849.10 351.60C849.67 351.24 850.72 352.02 851.20 350.70C851.68 349.38 852.26 344.11 852.70 341.70C853.14 339.29 854.26 333.81 854.50 332.60" stroke="#0000ff" stroke-width="2.25" fill="none" stroke-linejoin="round" stroke-linecap="butt"/>
<circle cx="105.5" cy="431.3" r="3.3" fill="#c00000" stroke="#000" stroke-width="0.9"/>
<circle cx="434.2" cy="384.4" r="3.3" fill="#c00000" stroke="#000" stroke-width="0.9"/>
<text x="61.2" y="440.7" font-size="10.4" fill="#000" font-weight="bold" text-anchor="start" textLength="31.3" lengthAdjust="spacingAndGlyphs" filter="url(#glowA)" stroke="#000" stroke-width="0.3">-5.8%</text>
<text x="444.3" y="389.1" font-size="10.6" fill="#000" font-weight="bold" text-anchor="start" textLength="31" lengthAdjust="spacingAndGlyphs" filter="url(#glowA)" stroke="#000" stroke-width="0.3">-1.1%</text>
<text x="854.9" y="335" font-size="10.2" fill="#000" font-weight="bold" text-anchor="start" textLength="33.6" lengthAdjust="spacingAndGlyphs" filter="url(#glowB)" stroke="#000" stroke-width="0.3">3.97%</text>
<rect x="53.5" y="127" width="146.5" height="30" rx="5" fill="#000" opacity="0.38" filter="url(#blur2)"/>
<rect x="50.5" y="123.5" width="146" height="30" rx="5" fill="#fffccc" stroke="#4f81bd" stroke-width="1.2"/>
<text x="60.4" y="143.1" font-size="13.9" fill="#1f497d" font-weight="bold" text-anchor="start" textLength="123.5" lengthAdjust="spacingAndGlyphs">Index as of August 5</text>
<text x="0" y="0" font-size="11.2" fill="#000" font-weight="bold" text-anchor="end" transform="translate(36.2 123.10) scale(1.08 1)">25%</text>
<text x="0" y="0" font-size="11.2" fill="#000" font-weight="bold" text-anchor="end" transform="translate(36.2 173.10) scale(1.08 1)">20%</text>
<text x="0" y="0" font-size="11.2" fill="#000" font-weight="bold" text-anchor="end" transform="translate(36.2 224.10) scale(1.08 1)">15%</text>
<text x="0" y="0" font-size="11.2" fill="#000" font-weight="bold" text-anchor="end" transform="translate(36.2 275.10) scale(1.08 1)">10%</text>
<text x="0" y="0" font-size="11.2" fill="#000" font-weight="bold" text-anchor="end" transform="translate(36.2 326.10) scale(1.08 1)">5%</text>
<text x="0" y="0" font-size="11.2" fill="#000" font-weight="bold" text-anchor="end" transform="translate(36.2 377.10) scale(1.08 1)">0%</text>
<text x="0" y="0" font-size="11.2" fill="#ff0000" font-weight="bold" text-anchor="end" transform="translate(36.2 428.10) scale(1.08 1)">-5%</text>
<text x="0" y="0" font-size="11.2" fill="#ff0000" font-weight="bold" text-anchor="end" transform="translate(36.2 479.10) scale(1.08 1)">-10%</text>
<text x="0" y="0" font-size="11.2" fill="#ff0000" font-weight="bold" text-anchor="end" transform="translate(36.2 529.10) scale(1.08 1)">-15%</text>
<text x="0" y="0" font-size="11.2" fill="#ff0000" font-weight="bold" text-anchor="end" transform="translate(36.2 580.10) scale(1.08 1)">-20%</text>
<text x="0" y="0" font-size="11.2" fill="#ff0000" font-weight="bold" text-anchor="end" transform="translate(36.2 631.10) scale(1.08 1)">-25%</text>
<text x="48.5" y="648.8" font-size="10.8" fill="#000" font-weight="normal" text-anchor="middle" textLength="25.7" lengthAdjust="spacingAndGlyphs">2000</text>
<text x="97.5" y="648.8" font-size="10.8" fill="#000" font-weight="normal" text-anchor="middle" textLength="25.7" lengthAdjust="spacingAndGlyphs">2001</text>
<text x="145.5" y="648.8" font-size="10.8" fill="#000" font-weight="normal" text-anchor="middle" textLength="25.7" lengthAdjust="spacingAndGlyphs">2002</text>
<text x="194.5" y="648.8" font-size="10.8" fill="#000" font-weight="normal" text-anchor="middle" textLength="25.7" lengthAdjust="spacingAndGlyphs">2003</text>
<text x="242.5" y="648.8" font-size="10.8" fill="#000" font-weight="normal" text-anchor="middle" textLength="25.7" lengthAdjust="spacingAndGlyphs">2004</text>
<text x="291.5" y="648.8" font-size="10.8" fill="#000" font-weight="normal" text-anchor="middle" textLength="25.7" lengthAdjust="spacingAndGlyphs">2005</text>
<text x="340.5" y="648.8" font-size="10.8" fill="#000" font-weight="normal" text-anchor="middle" textLength="25.7" lengthAdjust="spacingAndGlyphs">2006</text>
<text x="388.5" y="648.8" font-size="10.8" fill="#000" font-weight="normal" text-anchor="middle" textLength="25.7" lengthAdjust="spacingAndGlyphs">2007</text>
<text x="437.5" y="648.8" font-size="10.8" fill="#000" font-weight="normal" text-anchor="middle" textLength="25.7" lengthAdjust="spacingAndGlyphs">2008</text>
<text x="486.5" y="648.8" font-size="10.8" fill="#000" font-weight="normal" text-anchor="middle" textLength="25.7" lengthAdjust="spacingAndGlyphs">2009</text>
<text x="534.5" y="648.8" font-size="10.8" fill="#000" font-weight="normal" text-anchor="middle" textLength="25.7" lengthAdjust="spacingAndGlyphs">2010</text>
<text x="583.5" y="648.8" font-size="10.8" fill="#000" font-weight="normal" text-anchor="middle" textLength="25.7" lengthAdjust="spacingAndGlyphs">2011</text>
<text x="631.5" y="648.8" font-size="10.8" fill="#000" font-weight="normal" text-anchor="middle" textLength="25.7" lengthAdjust="spacingAndGlyphs">2012</text>
<text x="680.5" y="648.8" font-size="10.8" fill="#000" font-weight="normal" text-anchor="middle" textLength="25.7" lengthAdjust="spacingAndGlyphs">2013</text>
<text x="729.5" y="648.8" font-size="10.8" fill="#000" font-weight="normal" text-anchor="middle" textLength="25.7" lengthAdjust="spacingAndGlyphs">2014</text>
<text x="777.5" y="648.8" font-size="10.8" fill="#000" font-weight="normal" text-anchor="middle" textLength="25.7" lengthAdjust="spacingAndGlyphs">2015</text>
<text x="826.5" y="648.8" font-size="10.8" fill="#000" font-weight="normal" text-anchor="middle" textLength="25.7" lengthAdjust="spacingAndGlyphs">2016</text>
<text x="875.5" y="648.8" font-size="10.8" fill="#000" font-weight="normal" text-anchor="middle" textLength="25.7" lengthAdjust="spacingAndGlyphs">2017</text>
<text x="323" y="32.8" font-size="21.2" fill="#000" font-weight="bold" text-anchor="start" textLength="265" lengthAdjust="spacingAndGlyphs">ECRI Weekly Leading Index</text>
<text x="210.5" y="61.4" font-size="21.0" fill="#000" font-weight="bold" text-anchor="start" textLength="488.5" lengthAdjust="spacingAndGlyphs">Year-over-Year of the Four-Week Moving Average</text>
<text x="900.5" y="18.6" font-size="12.4" fill="#1f497d" font-weight="bold" text-anchor="end" textLength="70.8" lengthAdjust="spacingAndGlyphs">dshort.com</text>
<text x="900.5" y="36.5" font-size="12.4" fill="#1f497d" font-weight="bold" text-anchor="end" textLength="97.5" lengthAdjust="spacingAndGlyphs">August 12, 2016</text>
<rect x="114" y="87" width="33" height="8" fill="#d3d3d3"/>
<text x="150.3" y="95.8" font-size="13.1" fill="#808080" font-weight="bold" text-anchor="start" textLength="67.5" lengthAdjust="spacingAndGlyphs">Recessions</text>
<path d="M246 90.6H280.5" stroke="#0000ff" stroke-width="2.2"/>
<text x="284" y="95.7" font-size="13.1" fill="#0000ff" font-weight="bold" text-anchor="start" textLength="160" lengthAdjust="spacingAndGlyphs">Weekly Leading Index YoY</text>
<circle cx="489.6" cy="91" r="3.2" fill="#c00000" stroke="#000" stroke-width="0.7"/>
<text x="510.2" y="95.7" font-size="13.1" fill="#111" font-weight="bold" text-anchor="start" textLength="145" lengthAdjust="spacingAndGlyphs">Month Recession Starts</text>
<path d="M683.6 91.5H713.4" stroke="#c00000" stroke-width="3" stroke-dasharray="5.9 6.1" stroke-linecap="round"/>
<text x="720.6" y="95.7" font-size="13.1" fill="#c00000" font-weight="bold" text-anchor="start" textLength="82.8" lengthAdjust="spacingAndGlyphs">Current Level</text>
</svg>
</body></html>
